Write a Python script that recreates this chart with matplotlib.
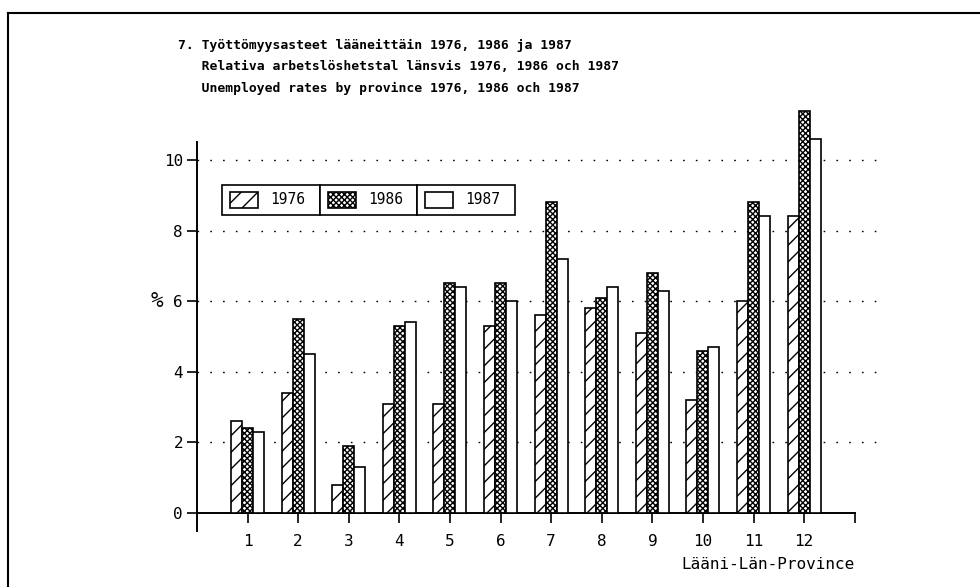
import numpy as np
import matplotlib
matplotlib.use("Agg")
import matplotlib.pyplot as plt
from matplotlib.patches import Rectangle
from matplotlib.lines import Line2D

# --- data -------------------------------------------------------------------
provinces = [1, 2, 3, 4, 5, 6, 7, 8, 9, 10, 11, 12]
years = ["1976", "1986", "1987"]
rate_1976 = [2.6, 3.4, 0.8, 3.1, 3.1, 5.3, 5.6, 5.8, 5.1, 3.2, 6.0, 8.4]
rate_1986 = [2.4, 5.5, 1.9, 5.3, 6.5, 6.5, 8.8, 6.1, 6.8, 4.6, 8.8, 11.4]
rate_1987 = [2.3, 4.5, 1.3, 5.4, 6.4, 6.0, 7.2, 6.4, 6.3, 4.7, 8.4, 10.6]
y_ticks = [0, 2, 4, 6, 8, 10]

title_lines = [
    "7. Työttömyysasteet lääneittäin 1976, 1986 ja 1987",
    "   Relativa arbetslöshetstal länsvis 1976, 1986 och 1987",
    "   Unemployed rates by province 1976, 1986 och 1987",
]
x_label = "Lääni-Län-Province"

MONO = "DejaVu Sans Mono"
plt.rcParams["hatch.linewidth"] = 1.0

fig = plt.figure(figsize=(9.8, 5.87), dpi=100)
ax = fig.add_axes([0.201, 0.0961, 0.697, 0.6615])

series = [rate_1976, rate_1986, rate_1987]
hatches = ["//", "xxxxxx", ""]
w = 0.217
x = np.array(provinces, dtype=float)
for i, vals in enumerate(series):
    ax.bar(x + (i - 1) * w, vals, width=w, facecolor="white", edgecolor="black",
           hatch=hatches[i], linewidth=1.2, clip_on=False, zorder=3)

ax.set_xlim(0, 13.5)
ax.set_ylim(-0.5, 10.5)

# axes styling
for s in ["top", "right"]:
    ax.spines[s].set_visible(False)
ax.spines["bottom"].set_position(("data", 0))
ax.spines["bottom"].set_bounds(0, 13)
ax.spines["bottom"].set_linewidth(1.4)
ax.spines["left"].set_linewidth(1.4)

ax.set_xticks(provinces + [13])
ax.set_xticklabels([str(p) for p in provinces] + [""], family=MONO, fontsize=11.5)
ax.set_yticks(y_ticks)
ax.set_yticklabels([str(t) for t in y_ticks], family=MONO, fontsize=11.5)
ax.tick_params(axis="x", direction="out", length=7, width=1.2, pad=8)
ax.tick_params(axis="y", direction="out", length=7, width=1.2, pad=3)

ax.yaxis.grid(True, linestyle=(0, (1.2, 8)), color="black", linewidth=1.0)
ax.set_axisbelow(True)
# no dotted line on the zero axis
ax.get_ygridlines()[0].set_visible(False)

ax.text(-0.8, 6, "%", family=MONO, fontsize=15, ha="center", va="center")
ax.text(13, -1.47, x_label, family=MONO, fontsize=11.5, ha="right", va="center")

# --- legend box -------------------------------------------------------------
cell_x0 = 0.494
cell_w = 1.93
y_top, y_bot = 9.29, 8.44
for i, yr in enumerate(years):
    cx = cell_x0 + i * cell_w
    ax.add_patch(Rectangle((cx, y_bot), cell_w, y_top - y_bot, facecolor="white",
                           edgecolor="black", linewidth=1.2, zorder=5))
    ax.add_patch(Rectangle((cx + 0.16, 8.64), 0.55, 0.45, facecolor="white",
                           edgecolor="black", hatch=hatches[i], linewidth=1.2, zorder=6))
    ax.text(cx + 0.95, 8.87, yr, family=MONO, fontsize=10.5, va="center", zorder=7)

# --- title ------------------------------------------------------------------
for k, line in enumerate(title_lines):
    fig.text(178 / 980, 1 - (45 + k * 21.5) / 587, line, family=MONO,
             fontsize=9.4, fontweight="bold", va="center", ha="left")

# outer frame (top and left edges)
fig.add_artist(Line2D([8 / 980, 1], [1 - 13 / 587, 1 - 13 / 587], color="black", linewidth=1.5))
fig.add_artist(Line2D([8 / 980, 8 / 980], [1 - 13 / 587, 0], color="black", linewidth=1.5))

fig.savefig("out.png", dpi=100)
